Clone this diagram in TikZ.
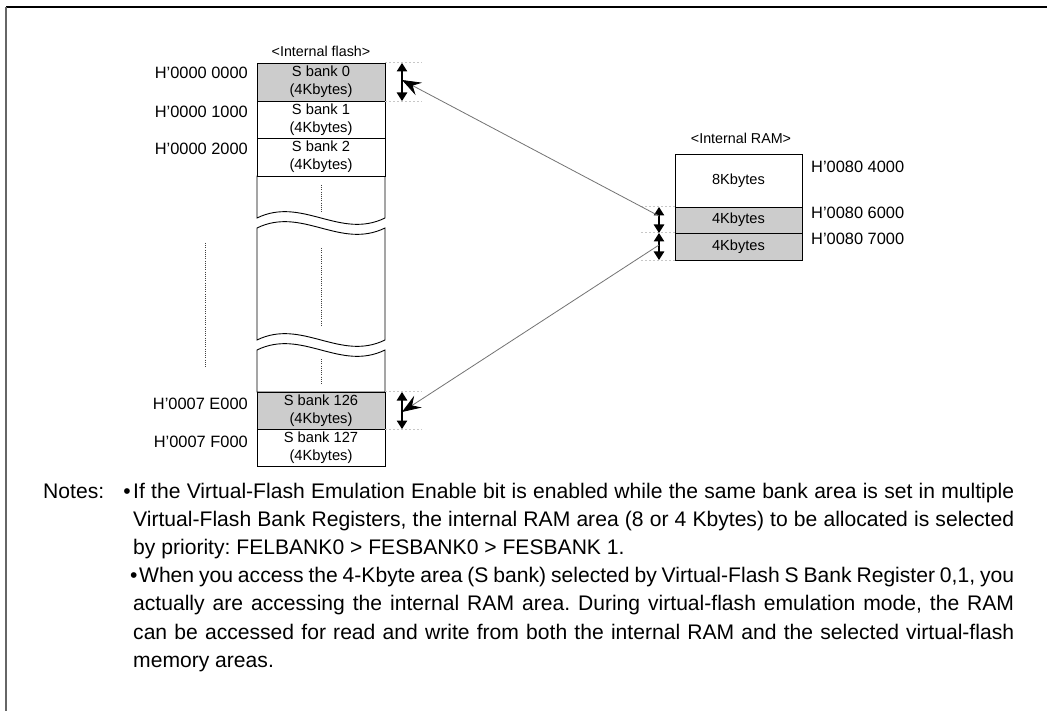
\documentclass[tikz,border=0pt]{standalone}
\usepackage{fontspec}
\setmainfont{Liberation Sans}
\usetikzlibrary{arrows.meta}
\frenchspacing
\begin{document}
\begin{tikzpicture}[x=1pt,y=-1pt,
  cell/.style={draw=black, line width=0.9pt},
  bankbox/.style={cell, minimum width=128pt, inner sep=0pt, align=center, font=\fontsize{14.7}{18}\selectfont},
  rambox/.style={cell, minimum width=127pt, inner sep=0pt, align=center, font=\fontsize{14.6}{18}\selectfont},
  shaded/.style={fill=black!20},
  addr/.style={font=\fontsize{16.4}{19}\selectfont, inner sep=0pt},
  hdr/.style={font=\fontsize{14.3}{17}\selectfont, inner sep=0pt},
  note/.style={font=\fontsize{21.1}{28}\selectfont, inner sep=0pt, anchor=base west},
  dbl/.style={{Triangle[length=8.5pt,width=10.5pt]}-{Triangle[length=8.5pt,width=10.5pt]}, line width=1.1pt},
  guide/.style={draw=black!22, line width=0.6pt, dash pattern=on 2pt off 2pt},
  link/.style={draw=black!55, line width=0.8pt, -{Stealth[length=19pt,width=14pt,inset=7pt,color=black]}},
  vdots/.style={draw=black!75, line width=1pt, dash pattern=on 1pt off 1.2pt}
]
\useasboundingbox (0,0) rectangle (1047,711);
\fill[white] (0,0) rectangle (1047,711);
% frame
\draw[line width=1.4pt] (6,7) -- (1047,7);
\draw[line width=1.6pt, black!60] (6,7) -- (6,711);

% ---------- internal flash ----------
\node[hdr] (fh) at (321,51) {<Internal flash>};
\draw[cell, fill=white] (257,176) -- (385,176) -- (385,218) .. controls (340,240) and (302,196) .. (257,218) -- cycle;
\draw[cell, fill=white] (257,228) .. controls (302,206) and (340,250) .. (385,228) -- (385,340) .. controls (340,362) and (302,318) .. (257,340) -- cycle;
\draw[cell, fill=white] (257,350) .. controls (302,328) and (340,372) .. (385,350) -- (385,392) -- (257,392) -- cycle;
\draw[vdots] (321,185) -- (321,212);
\draw[vdots] (321,248) -- (321,327);
\draw[vdots] (321,359) -- (321,385);
\draw[vdots] (205,243) -- (205,368);

\node[bankbox, shaded, minimum height=38pt] (b0) at (321,82) {S bank 0\\(4Kbytes)};
\node[bankbox, fill=white, minimum height=37pt] (b1) at (321,119.5) {S bank 1\\(4Kbytes)};
\node[bankbox, fill=white, minimum height=38pt] (b2) at (321,157) {S bank 2\\(4Kbytes)};
\node[bankbox, shaded, minimum height=37pt] (b126) at (321,410.5) {S bank 126\\(4Kbytes)};
\node[bankbox, fill=white, minimum height=37pt] (b127) at (321,447.5) {S bank 127\\(4Kbytes)};

\node[addr, anchor=east] (a0) at (248,73) {H’0000 0000};
\node[addr, anchor=east] (a1) at (248,112) {H’0000 1000};
\node[addr, anchor=east] (a2) at (248,149) {H’0000 2000};
\node[addr, anchor=east] (a126) at (248,404) {H’0007 E000};
\node[addr, anchor=east] (a127) at (248,442) {H’0007 F000};

% guides and double arrows at flash
\draw[guide] (b0.north east) -- ++(37,0);
\draw[guide] (b0.south east) -- ++(37,0);
\draw[guide] (b126.north east) -- ++(37,0);
\draw[guide] (b126.south east) -- ++(37,0);
\coordinate (f0t) at (402,63);
\coordinate (f0b) at (402,101);
\coordinate (f0m) at (402,80);
\coordinate (f1t) at (402,392);
\coordinate (f1b) at (402,429);
\coordinate (f1m) at (402,412);
\draw[dbl] (f0t) -- (f0b);
\draw[dbl] (f1t) -- (f1b);

% ---------- internal RAM ----------
\node[hdr] (rh) at (741,138) {<Internal RAM>};
\node[rambox, fill=white, minimum height=53pt] (r8) at (738.5,180.5) {8Kbytes};
\node[rambox, shaded, minimum height=26pt] (r4a) at (738.5,220) {4Kbytes};
\node[rambox, shaded, minimum height=27pt] (r4b) at (738.5,246.5) {4Kbytes};

\node[addr, anchor=west] (ra0) at (811,167) {H’0080 4000};
\node[addr, anchor=west] (ra1) at (811,213) {H’0080 6000};
\node[addr, anchor=west] (ra2) at (811,239) {H’0080 7000};

\draw[guide] (r4a.north west) -- ++(-35,0);
\draw[guide] (r4b.north west) -- ++(-35,0);
\draw[guide] (r4b.south west) -- ++(-35,0);
\coordinate (g0t) at (659,207);
\coordinate (g0b) at (659,233);
\coordinate (g0m) at (659,216);
\coordinate (g1t) at (659,233);
\coordinate (g1b) at (659,260);
\coordinate (g1m) at (659,245);
\draw[dbl] (g0t) -- (g0b);
\draw[dbl] (g1t) -- (g1b);

% links
\draw[link] (g0m) -- (f0m);
\draw[link] (g1m) -- (f1m);

% ---------- notes ----------
\node[note] (nl) at (43,498) {Notes:};
\node[note, anchor=base east] (nb1) at (131,498) {•};
\node[note] (n1) at (133,498) {\makebox[881pt][s]{If the Virtual-Flash Emulation Enable bit is enabled while the same bank area is set in multiple}};
\node[note] (n2) at (133,526.2) {\makebox[881pt][s]{Virtual-Flash Bank Registers, the internal RAM area (8 or 4 Kbytes) to be allocated is selected}};
\node[note] (n3) at (133,554.4) {by priority: FELBANK0 > FESBANK0 > FESBANK 1.};
\node[note] (n4) at (130,582.6) {\makebox[884pt][s]{•\kern1.5pt When you access the 4-Kbyte area (S bank) selected by Virtual-Flash S Bank Register 0,1, you}};
\node[note] (n5) at (133,610.8) {\makebox[881pt][s]{actually are accessing the internal RAM area. During virtual-flash emulation mode, the RAM}};
\node[note] (n6) at (133,639) {\makebox[881pt][s]{can be accessed for read and write from both the internal RAM and the selected virtual-flash}};
\node[note] (n7) at (133,667.2) {memory areas.};
\end{tikzpicture}
\end{document}
